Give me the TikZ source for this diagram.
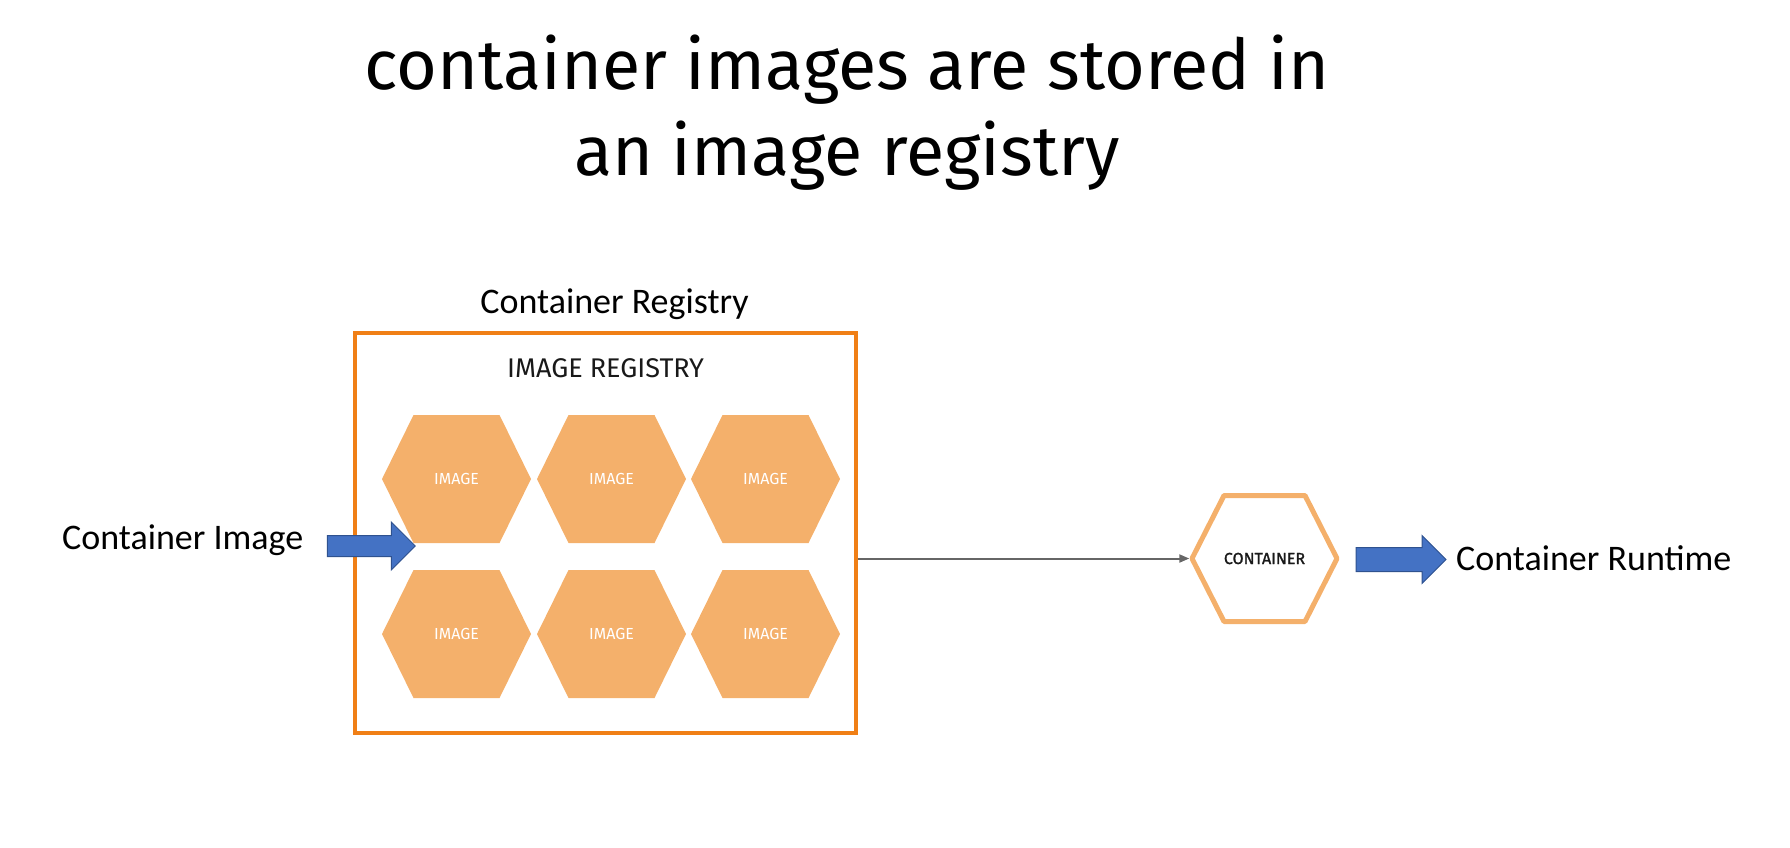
\documentclass[tikz,border=0pt]{standalone}
\usepackage{fontspec}
\setmainfont{Carlito}
\newfontfamily\headfont{Fira Sans}
\newfontfamily\semifont[FakeBold=1.3]{Fira Sans}
\usepackage{tikz}
\usetikzlibrary{shapes.arrows,arrows.meta}
\definecolor{regorange}{HTML}{F07F16}
\definecolor{hexorange}{HTML}{F4B06B}
\definecolor{blockblue}{HTML}{4472C4}
\definecolor{blockedge}{HTML}{2F528F}
\definecolor{conngray}{HTML}{666666}
\tikzset{
  pics/hexa/.style args={#1/#2/#3}{code={
    \path[pic actions] (-#1,0) -- (-#3,-#2) -- (#3,-#2) -- (#1,0) -- (#3,#2) -- (-#3,#2) -- cycle;}}
}
\begin{document}
\begin{tikzpicture}
  [x=1pt,y=-1pt,
  titletext/.style={font=\headfont\fontsize{70}{70}\selectfont,anchor=base,inner sep=0pt},
  plaintext/.style={font=\fontsize{36}{36}\selectfont,anchor=base west,inner sep=0pt},
  regbox/.style={draw=regorange,line width=3.5pt,minimum width=501pt,minimum height=400pt,inner sep=0pt},
  imglabel/.style={font=\headfont\fontsize{16}{16}\selectfont,text=white},
  ctrbox/.style={minimum width=150pt,minimum height=131pt,inner sep=0pt,font=\semifont\fontsize{16}{16}\selectfont,text=black!90},
  blockarrow/.style={single arrow,draw=blockedge,fill=blockblue,line width=1pt,inner sep=0pt},
  conn/.style={conngray,line width=2pt,-{Triangle[length=10pt,width=8pt]}}]
  \useasboundingbox (0,0) rectangle (1790,847);
  \node[titletext] (title1) at (847,89) {container images are stored in};
  \node[titletext] (title2) at (847,175) {an image registry};
  \node[regbox] (registry) at (605.5,533) {};
  \node[plaintext,anchor=base] (reglabel) at (614.5,313) {Container Registry};
  \node[font=\headfont\fontsize{27}{27}\selectfont,text=black!90] (regtitle) at (605.5,368.5) {IMAGE REGISTRY};
  \foreach \r/\y in {1/479,2/634}
    \foreach \c/\x in {1/456.5,2/611.5,3/765.5}
    {
      \pic[fill=hexorange] at (\x,\y) {hexa=74.5/64/43};
      \node[imglabel] (img\r\c) at (\x,\y) {IMAGE};
    }
  \node[ctrbox] (container) at (1264.5,558.5) {CONTAINER};
  \pic[draw=hexorange,line width=5pt,line join=round] at (container) {hexa=72.5/63/40.5};
  \node[plaintext] (imagetext) at (62,549) {Container Image};
  \node[blockarrow,minimum height=88pt,text height=10pt,text depth=10pt,single arrow head extend=13.5pt] (inarrow) at (366,546) {};
  \node[blockarrow,minimum height=90pt,text height=11.5pt,text depth=11.5pt,single arrow head extend=12pt] (outarrow) at (1395,559.5) {};
  \node[plaintext] (runtimetext) at (1456,570) {Container Runtime};
  \draw[conn] (registry.east |- container.west) -- (container.west);
\end{tikzpicture}
\end{document}
